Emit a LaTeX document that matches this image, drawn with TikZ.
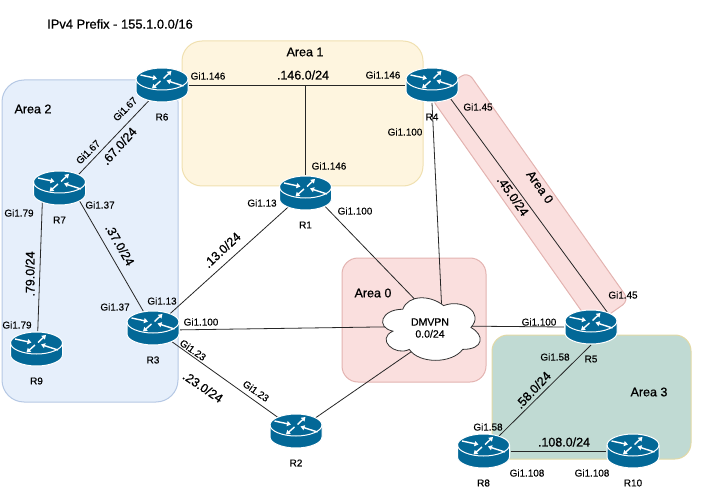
\documentclass[tikz,border=0pt]{standalone}
\usepackage{fontspec}
\setmainfont{Liberation Sans}
\newfontfamily\smallfont[FakeBold=0.4]{Liberation Sans}
\newfontfamily\largefont[FakeBold=0.8]{Liberation Sans}
\usetikzlibrary{arrows.meta,
                backgrounds,
                shapes.geometric
                }
\definecolor{rtrblue}{HTML}{036897}
\definecolor{yelfill}{HTML}{FEF5DF}
\definecolor{yelline}{HTML}{F0E0B0}
\definecolor{blufill}{HTML}{E6EFFB}
\definecolor{bluline}{HTML}{B5C8E4}
\definecolor{redfill}{HTML}{FADFDE}
\definecolor{redline}{HTML}{E3B3B0}
\definecolor{grnfill}{HTML}{C0DAD3}
\definecolor{grnline}{HTML}{E3D9A5}
\tikzset{
    rtrarrow/.style = {draw=white, line width=1.4pt, -{Triangle[length=4pt,width=5pt]}},
    rtricon/.pic = {
        \draw[fill=rtrblue, draw=white, line width=1pt]
            (-26,-6) -- (-26,6) .. controls (-26,12) and (-14,17) .. (0,17)
            .. controls (14,17) and (26,12) .. (26,6) -- (26,-6)
            .. controls (26,-12) and (14,-17) .. (0,-17)
            .. controls (-14,-17) and (-26,-12) .. (-26,-6) -- cycle;
        \draw[white, line width=1pt]
            (-26,-6) .. controls (-26,0) and (-14,5) .. (0,5)
            .. controls (14,5) and (26,0) .. (26,-6);
        \draw[rtrarrow] (-21.5,-10) -- (-5,-6.5);
        \draw[rtrarrow] (1.5,-6.5) -- (9.5,-14);
        \draw[rtrarrow] (-1.5,-4) -- (-10,3.5);
        \draw[rtrarrow] (21.5,1) -- (4.5,-4.5);
    }
}
\begin{document}
\begin{tikzpicture}[
        x = 1pt, y = -1pt,
        area/.style = {draw, line width=1pt, inner sep=0pt, outer sep=0pt},
        rtr/.style = {ellipse, minimum width=54pt, minimum height=36pt, inner sep=0pt, outer sep=0pt},
        link/.style = {line width=0.8pt, black!85},
        gi/.style = {font=\smallfont\fontsize{9.9}{11}\selectfont, inner sep=0pt},
        rtrname/.style = {font=\smallfont\fontsize{10}{12}\selectfont, inner sep=0pt},
        subnet/.style = {font=\largefont\fontsize{12.5}{14}\selectfont, inner sep=0pt},
        areaname/.style = {font=\largefont\fontsize{12.5}{14}\selectfont, inner sep=0pt}
    ]
    \useasboundingbox (0,0) rectangle (720,497);
    \node (title) [subnet, font=\largefont\fontsize{12.9}{14}\selectfont] at (120,24) {IPv4 Prefix - 155.1.0.0/16};
    % routers
    \foreach \n/\x/\y in {R1/305.5/193, R2/296/431, R3/153/328, R4/432/85, R5/591/327,
                          R6/162/85, R7/59.5/188, R8/483.5/451, R9/36.5/349, R10/633/451}{
        \node (\n) [rtr] at (\x,\y) {};
        \pic at (\n) {rtricon};
        \node (name\n) [rtrname] at ([yshift=-32pt]\n) {\n};
    }
    \node (DMVPN) [ellipse, minimum width=72pt, minimum height=48pt, inner sep=0pt, outer sep=0pt,
                   align=center, font=\smallfont\fontsize{10.5}{12}\selectfont] at (430,328) {DMVPN\\0.0/24};
    % areas, links and the cloud stay behind the routers
    \begin{pgfonlayer}{background}
        \node (area1) [area, fill=yelfill, draw=yelline, rounded corners=20pt,
                       minimum width=241pt, minimum height=145pt] at (302.5,113.5) {};
        \node (area2) [area, fill=blufill, draw=bluline, rounded corners=22pt,
                       minimum width=176pt, minimum height=322pt] at (90,241) {};
        \node (area0) [area, fill=redfill, draw=redline, rounded corners=16pt,
                       minimum width=144pt, minimum height=124pt] at (414,320) {};
        \node (area3) [area, fill=grnfill, draw=grnline, rounded corners=16pt,
                       minimum width=199pt, minimum height=124pt] at (591.5,397) {};
        \node (area0b) [area, fill=redfill, draw=redline, rounded corners=8pt, rotate=-54.8,
                        minimum width=280pt, minimum height=45pt] at (530,199) {};
        \draw[link] (R1) -- (R1 |- R6);
        \foreach \a/\b in {R6.east/R4.west, R6.230/R7.35, R7.219/R9.86, R7.-32/R3.120,
                           R3.40/R1.219, R3.-36/R2.143, R4.-36/R5.40, R5.-90/R8.44,
                           R8.east/R10.west, R4.-90/DMVPN.63, R1.-34/DMVPN.113, R3.-4/DMVPN.178,
                           R2.34/DMVPN.234, R5.west/DMVPN.3}{
            \draw[link] (\a) -- (\b);
        }
        \draw[fill=white, draw=black!80, line width=0.8pt, shift={(375.5,291)}, x=109pt, y=-73pt]
            (.25,.25) .. controls (.05,.25) and (0,.5) .. (.16,.55)
            .. controls (0,.66) and (.18,.9) .. (.31,.8)
            .. controls (.4,1) and (.7,1) .. (.8,.8)
            .. controls (1,.8) and (1,.6) .. (.875,.5)
            .. controls (1,.3) and (.8,.1) .. (.625,.2)
            .. controls (.5,.05) and (.3,.05) .. (.25,.25) -- cycle;
    \end{pgfonlayer}
    % area names
    \node (nameA1) [areaname] at (305,52) {Area 1};
    \node (nameA2) [areaname] at (33,109) {Area 2};
    \node (nameA0) [areaname] at (373,293) {Area 0};
    \node (nameA3) [areaname] at (649,392) {Area 3};
    \node (nameA0b) [areaname, rotate=-54.8] at (540,187) {Area 0};
    % subnets
    \node (p146) [subnet] at (303,75) {.146.0/24};
    \node (p67) [subnet, rotate=48] at (119,146) {.67.0/24};
    \node (p37) [subnet, rotate=-60] at (120,245) {.37.0/24};
    \node (p79) [subnet, rotate=90] at (30,274) {.79.0/24};
    \node (p13) [subnet, rotate=43] at (222,250) {.13.0/24};
    \node (p23) [subnet, rotate=-34] at (203,387) {.23.0/24};
    \node (p45) [subnet, rotate=-55] at (513,196) {.45.0/24};
    \node (p58) [subnet, rotate=47] at (533,390) {.58.0/24};
    \node (p108) [subnet] at (564,442) {.108.0/24};
    % interfaces
    \foreach \t/\x/\y/\r [count=\i] in {Gi1.146/208/76/0, Gi1.146/383/75/0, Gi1.146/329/166/0,
            Gi1.100/405/132/0, Gi1.45/478/107/0, Gi1.100/355/211/0, Gi1.13/262/203/0,
            Gi1.67/125/109/45, Gi1.67/88/152/45, Gi1.37/100/205/0, Gi1.79/19/213/0,
            Gi1.79/17/325/0, Gi1.37/115/307/0, Gi1.13/162/301/0, Gi1.100/201/322/0,
            Gi1.23/193/350/-35, Gi1.23/256/391/-35, Gi1.45/623/295/0, Gi1.100/539/322/0,
            Gi1.58/555/357/0, Gi1.58/488/427/0, Gi1.108/527/473/0, Gi1.108/592/473/0}{
        \node (gi\i) [gi, rotate=\r] at (\x,\y) {\t};
    }
\end{tikzpicture}
\end{document}
